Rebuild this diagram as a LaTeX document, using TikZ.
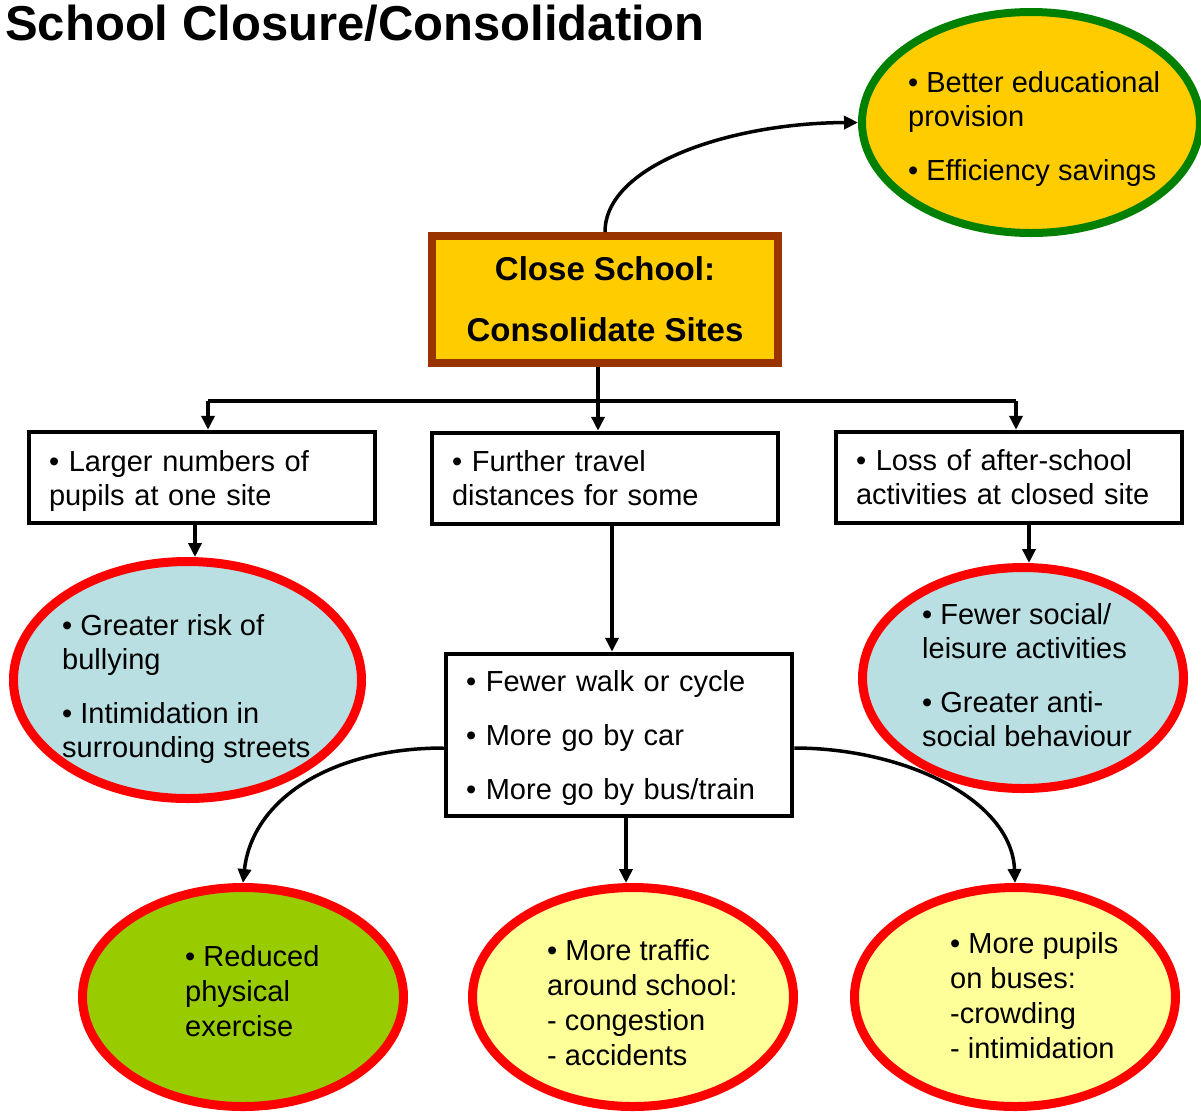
\documentclass[tikz,border=0pt]{standalone}
\usepackage{fontspec}
\setmainfont{Liberation Sans}
\usetikzlibrary{arrows.meta,shapes.geometric}
\definecolor{gold}{HTML}{FFCC00}
\definecolor{brownline}{HTML}{993300}
\definecolor{greenline}{HTML}{008000}
\definecolor{lightblue}{HTML}{B9DFE3}
\definecolor{paleyellow}{HTML}{FFFF99}
\definecolor{limegreen}{HTML}{99CC00}
\definecolor{redline}{HTML}{FF0000}
\begin{document}
\begin{tikzpicture}[x=1pt,y=-1pt,
  conn/.style={line width=3.5pt},
  arr/.style={line width=3.5pt,-{Triangle[length=14pt,width=13pt]}},
  infobox/.style={draw,line width=4.5pt,fill=white,minimum width=346pt,text width=306pt,
    inner xsep=20pt,inner ysep=0pt,align=left,font=\fontsize{29}{34}\selectfont},
  oval/.style={ellipse,draw=redline,line width=9pt,inner sep=0pt},
  ovaltext/.style={anchor=west,align=left,inner sep=0pt,font=\fontsize{29}{34}\selectfont},
  ovaltextb/.style={anchor=west,align=left,inner sep=0pt,font=\fontsize{29}{35}\selectfont}]
\useasboundingbox (0,0) rectangle (1201,1112);

% title
\node[anchor=base west,inner sep=0pt,font=\fontsize{49}{52}\selectfont\bfseries] (title) at (5,40) {School Closure/Consolidation};

% central decision box
\node[draw=brownline,line width=8pt,fill=gold,minimum width=346pt,minimum height=127pt,
  inner sep=0pt,align=center,font=\fontsize{33}{61}\selectfont\bfseries] (close) at (605,299.5)
  {Close School:\\Consolidate Sites};

% benefits ellipse
\node[ellipse,draw=greenline,line width=8pt,fill=gold,minimum width=338pt,minimum height=221pt,inner sep=0pt] (top) at (1031,122.5) {};
\node[ovaltext] (toptxt) at (908,128.5) {• Better educational\\provision\\[20pt]• Efficiency savings};

% second-level boxes
\node[infobox,minimum height=91pt] (b1) at (202,477.5) {• Larger numbers of\\\smash{pupils at one site}};
\node[infobox,minimum height=91pt] (b2) at (605,478.5) {• Further travel\\distances for some};
\node[infobox,minimum height=91pt] (b3) at (1009,477.5) {• Loss of after-school\\activities at closed site};

% third-level ellipses
\node[oval,fill=lightblue,minimum width=348pt,minimum height=237pt] (e1) at (187.5,680) {};
\node[ovaltext] (e1txt) at (62,689) {• Greater risk of\\bullying\\[20pt]• Intimidation in\\surrounding streets};
\node[oval,fill=lightblue,minimum width=321pt,minimum height=221pt] (e3) at (1023,678) {};
\node[ovaltext] (e3txt) at (922,675) {• Fewer social/\\leisure activities\\[20pt]• Greater anti-\\social behaviour};

% travel box
\node[infobox,minimum height=162pt] (cb) at (619,735) {• Fewer walk or cycle\\[20pt]• More go by car\\[20pt]\smash{• More go by bus/train}};

% bottom ellipses
\node[oval,fill=limegreen,minimum width=321pt,minimum height=219pt] (e4) at (243,997) {};
\node[ovaltextb] (e4txt) at (185,991) {• Reduced\\physical\\exercise};
\node[oval,fill=paleyellow,minimum width=321pt,minimum height=219pt] (e5) at (633,997) {};
\node[ovaltextb] (e5txt) at (547,1003) {• More traffic\\around school:\\- congestion\\- accidents};
\node[oval,fill=paleyellow,minimum width=321pt,minimum height=219pt] (e6) at (1015,997) {};
\node[ovaltextb] (e6txt) at (950,996) {• More pupils\\on buses:\\-crowding\\- intimidation};

% helper coordinates
\coordinate (bl) at (208,401);
\coordinate (bm) at (598,401);
\coordinate (br) at (1016,401);
\coordinate (a1) at (195,0);
\coordinate (a2) at (612,0);
\coordinate (a3) at (1029,0);
\coordinate (a4) at (626,0);
\coordinate (yl) at (0,748);

% connectors
\draw[arr] (close.north) .. controls (605,165) and (730,123) .. (top.west);
\draw[conn] (bl) -- (br);
\draw[arr] (close.south -| bm) -- (b2.north -| bm);
\draw[arr] (bl) -- (b1.north -| bl);
\draw[arr] (br) -- (b3.north -| br);
\draw[arr] (b1.south -| a1) -- (e1.north -| a1);
\draw[arr] (b2.south -| a2) -- (cb.north -| a2);
\draw[arr] (b3.south -| a3) -- (e3.north -| a3);
\draw[arr] (cb.south -| a4) -- (e5.north -| a4);
\draw[arr] (cb.west |- yl) .. controls (330,748) and (252,800) .. (e4.north);
\draw[arr] (cb.east |- yl) .. controls (905,748) and (1012,800) .. (e6.north);
\end{tikzpicture}
\end{document}
